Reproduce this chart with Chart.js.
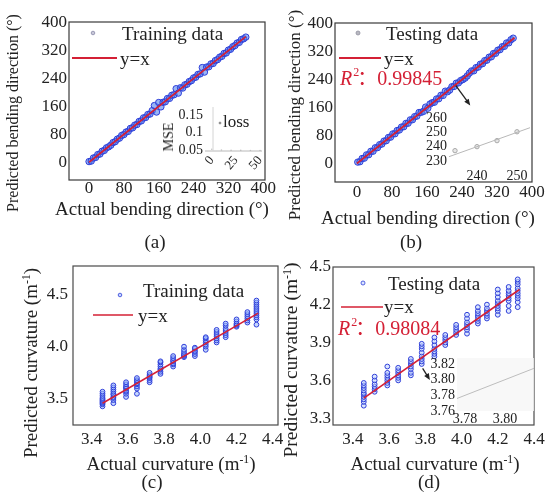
<!DOCTYPE html>
<html>
<head>
<meta charset="utf-8">
<script src="https://cdn.jsdelivr.net/npm/chart.js@4.4.1/dist/chart.umd.min.js"></script>
<style>
  body { margin: 0; background: #fff; }
  #fig { position: relative; width: 556px; height: 504px; overflow: hidden; font-family: "Liberation Serif", "Times New Roman", serif; color: #222; }
  #fig canvas { position: absolute; }
  .lbl { position: absolute; white-space: nowrap; line-height: 1; transform: translate(-50%, -50%); }
  .rot { transform: translate(-50%, -50%) rotate(-90deg); }
  sup { font-size: 0.62em; vertical-align: 0.55em; line-height: 0; }
</style>
</head>
<body>
<div id="fig">
  <canvas id="chart_a"></canvas>
  <canvas id="chart_b"></canvas>
  <canvas id="chart_c"></canvas>
  <canvas id="chart_d"></canvas>
  <canvas id="inset_a"></canvas>
  <canvas id="inset_b"></canvas>
  <canvas id="inset_d"></canvas>

  <div class="lbl rot" style="left:13px;top:113px;font-size:16px">Predicted bending direction (°)</div>
  <div class="lbl" style="left:162px;top:208px;font-size:19px">Actual bending direction (°)</div>
  <div class="lbl" style="left:155px;top:241px;font-size:19px">(a)</div>
  <div class="lbl rot" style="left:169px;top:137px;font-size:14px">MSE</div>

  <div class="lbl rot" style="left:294px;top:115px;font-size:17px">Predicted bending direction (°)</div>
  <div class="lbl" style="left:428px;top:217px;font-size:19px">Actual bending direction (°)</div>
  <div class="lbl" style="left:411px;top:241px;font-size:19px">(b)</div>

  <div class="lbl rot" style="left:30px;top:363px;font-size:19px">Predicted curvature (m<sup>-1</sup>)</div>
  <div class="lbl" style="left:171px;top:463px;font-size:19px">Actual curvature (m<sup>-1</sup>)</div>
  <div class="lbl" style="left:152px;top:481px;font-size:19px">(c)</div>

  <div class="lbl rot" style="left:291px;top:360px;font-size:19.5px">Predicted curvature (m<sup>-1</sup>)</div>
  <div class="lbl" style="left:435px;top:463px;font-size:19px">Actual curvature (m<sup>-1</sup>)</div>
  <div class="lbl" style="left:429px;top:481px;font-size:19px">(d)</div>
</div>

<script>
// ---- data ----
const dirTicks = [0, 80, 160, 240, 320, 400];

const trainDirActual = [0, 5, 10, 15, 20, 25, 30, 35, 40, 45, 50, 55, 60, 65, 70, 75, 80, 85, 90, 95,
    100, 105, 110, 115, 120, 125, 130, 135, 140, 145, 150, 155, 160, 165, 170, 175, 180, 185, 190, 195,
    200, 205, 210, 215, 220, 225, 230, 235, 240, 245, 250, 255, 260, 265, 270, 275, 280, 285, 290, 295,
    300, 305, 310, 315, 320, 325, 330, 335, 340, 345, 350, 355, 360];
const trainDirPred = [1.8, 3.2, 12.1, 13.6, 21.9, 23.4, 31.5, 33.8, 41.2, 44.1, 48.7, 56.3, 58.9, 66.2, 69.1, 76.8, 79.2, 86.5, 88.4, 96.9,
    98.6, 106.3, 108.2, 116.9, 118.5, 127.1, 128.3, 136.8, 138.1, 147.9, 162.4, 143.8, 171.2, 158.6, 171.8, 173.2, 182.6, 183.1, 191.9, 193.4,
    210.8, 198.1, 213.5, 212.6, 221.8, 223.7, 231.2, 233.9, 241.6, 243.8, 251.7, 253.2, 271.4, 258.3, 272.8, 273.6, 281.9, 283.2, 291.4, 294.1,
    301.2, 303.6, 311.8, 313.3, 321.5, 323.9, 331.2, 334.4, 341.7, 343.6, 351.8, 353.9, 358.7];

const testDirActual = [2, 7, 12, 17, 22, 27, 32, 37, 42, 47, 52, 57, 62, 67, 72, 77, 82, 87, 92, 97,
    102, 107, 112, 117, 122, 127, 132, 137, 142, 147, 152, 157, 162, 167, 172, 177, 182, 187, 192, 197,
    202, 207, 212, 217, 222, 227, 232, 237, 242, 247, 252, 257, 262, 267, 272, 277, 282, 287, 292, 297,
    302, 307, 312, 317, 322, 327, 332, 337, 342, 347, 352, 357];
const testDirPred = [3.9, 5.1, 14.2, 15.3, 24.6, 25.1, 34.8, 35.2, 44.9, 45.3, 53.8, 55.6, 64.1, 65.2, 74.3, 75.4, 84.6, 85.1, 94.3, 95.8,
    104.2, 105.1, 114.7, 115.3, 124.8, 125.2, 134.1, 135.6, 145.9, 146.4, 149.1, 161.3, 158.2, 170.1, 173.8, 175.3, 184.6, 185.2, 195.1, 194.8,
    206.9, 205.3, 210.1, 219.6, 220.4, 229.8, 230.6, 237.2, 240.0, 244.2, 250.4, 258.6, 264.9, 265.1, 274.2, 275.8, 284.1, 285.6, 294.3, 295.7,
    304.1, 305.2, 314.6, 315.4, 324.2, 325.8, 334.1, 335.3, 344.9, 345.1, 354.2, 358.6];

const fitDir = [0, 360];            // y = x
const r2Dir = "0.99845";

// loss inset of (a)
const lossEpoch = [0, 10, 20, 30, 40, 50];
const lossMse = [0.052, 0.050, 0.049, 0.049, 0.048, 0.048];
const mseTicks = [0.05, 0.1, 0.15];
const epochTicks = [0, 25, 50];

// zoom inset of (b)
const zoomDirActual = [234.5, 240, 245, 250];
const zoomDirPred = [237.2, 240, 244.2, 250.4];
const zoomDirFit = [232, 254];
const zoomDirTicksX = [240, 250];
const zoomDirTicksY = [230, 240, 250, 260];

// curvature panels
const curvLevels = [3.46, 3.52, 3.59, 3.65, 3.72, 3.78, 3.85, 3.91, 3.97, 4.03, 4.09, 4.14, 4.20, 4.26, 4.31];
const trainCurvPred = [
    [3.43, 3.45, 3.46, 3.47, 3.48, 3.49, 3.50, 3.51, 3.53, 3.55, 3.57],
    [3.46, 3.49, 3.51, 3.52, 3.54, 3.55, 3.57, 3.59, 3.61, 3.63],
    [3.52, 3.55, 3.57, 3.58, 3.60, 3.61, 3.62, 3.64, 3.66],
    [3.55, 3.60, 3.62, 3.64, 3.65, 3.67, 3.68, 3.70],
    [3.66, 3.68, 3.70, 3.71, 3.72, 3.73, 3.75],
    [3.74, 3.76, 3.78, 3.79, 3.81, 3.83, 3.85, 3.86],
    [3.81, 3.83, 3.84, 3.86, 3.87, 3.89, 3.91],
    [3.90, 3.91, 3.92, 3.93, 3.95, 3.97, 4.00],
    [3.91, 3.93, 3.95, 3.96, 3.98, 3.99],
    [3.97, 4.00, 4.02, 4.04, 4.06, 4.08, 4.09],
    [4.04, 4.06, 4.08, 4.10, 4.12, 4.14, 4.16],
    [4.09, 4.11, 4.13, 4.15, 4.17, 4.20, 4.22],
    [4.19, 4.20, 4.21, 4.22, 4.24, 4.26],
    [4.23, 4.25, 4.27, 4.29, 4.31, 4.33],
    [4.21, 4.26, 4.28, 4.30, 4.32, 4.34, 4.36, 4.38, 4.40, 4.42, 4.44]
];
const testCurvPred = [
    [3.40, 3.43, 3.45, 3.47, 3.49, 3.50, 3.52, 3.54, 3.56, 3.58],
    [3.51, 3.53, 3.55, 3.57, 3.60, 3.63],
    [3.56, 3.58, 3.60, 3.62, 3.64, 3.66, 3.71],
    [3.60, 3.62, 3.64, 3.66, 3.68, 3.70],
    [3.64, 3.66, 3.69, 3.71, 3.73, 3.75, 3.77],
    [3.73, 3.75, 3.77, 3.79, 3.82, 3.85, 3.87, 3.89],
    [3.79, 3.81, 3.83, 3.85, 3.88, 3.91, 3.94],
    [3.88, 3.90, 3.92, 3.94, 3.96],
    [3.96, 3.98, 4.00, 4.02, 4.04],
    [3.97, 4.00, 4.02, 4.04, 4.06, 4.09, 4.12],
    [4.05, 4.07, 4.09, 4.11, 4.13, 4.15, 4.18],
    [4.09, 4.11, 4.13, 4.15, 4.17, 4.20],
    [4.12, 4.15, 4.17, 4.19, 4.21, 4.23, 4.26, 4.29, 4.32],
    [4.15, 4.19, 4.23, 4.25, 4.27, 4.29, 4.31, 4.34],
    [4.18, 4.22, 4.25, 4.27, 4.29, 4.31, 4.33, 4.36, 4.38, 4.40]
];
const fitCurv = [3.46, 4.32];        // y = x
const r2Curv = "0.98084";
const curvTicksX = [3.4, 3.6, 3.8, 4.0, 4.2, 4.4];
const curvTicksYc = [3.5, 4.0, 4.5];
const curvTicksYd = [3.3, 3.6, 3.9, 4.2, 4.5];

// zoom inset of (d)
const zoomCurvFit = [3.77, 3.82];
const zoomCurvTicksX = [3.78, 3.80];
const zoomCurvTicksY = [3.76, 3.78, 3.80, 3.82];

// ---- helpers ----
const FONT = '"Liberation Serif", "Times New Roman", serif';
const BLUE = "#2f3fd8";
const RED = "#d42035";

Chart.defaults.animation = false;
Chart.defaults.events = [];
Chart.defaults.plugins.legend.display = false;
Chart.defaults.plugins.tooltip.enabled = false;

const pairs = (xs, ys) => xs.map((x, i) => ({ x: x, y: ys[i] }));
const diag = (v) => v.map((x) => ({ x: x, y: x }));
const columns = (levels, cols) => levels.flatMap((x, i) => cols[i].map((y) => ({ x: x, y: y })));

function axis(min, max, ticks, size, fontSize, pad, fmt, rot) {
    return {
        type: "linear",
        min: min,
        max: max,
        grid: { display: false, drawTicks: false },
        border: { display: false },
        afterBuildTicks: (s) => { s.ticks = ticks.map((v) => ({ value: v })); },
        afterFit: (s) => { if (s.isHorizontal()) s.height = size; else s.width = size; },
        ticks: {
            color: "#222",
            font: { family: FONT, size: fontSize, lineHeight: 1 },
            padding: pad,
            autoSkip: false,
            minRotation: rot || 0,
            maxRotation: rot || 0,
            callback: (v) => fmt(v),
        },
    };
}

// frame, legend keys, R² text and arrow drawn on top of the datasets
function decor(o) {
    return {
        id: "decor",
        beforeDatasetsDraw(chart) {
            if (!o.shade) return;
            const { ctx, chartArea: a } = chart;
            ctx.save();
            ctx.fillStyle = o.shade;
            ctx.fillRect(a.left, a.top, a.width, a.height);
            ctx.restore();
        },
        afterDatasetsDraw(chart) {
            const { ctx, chartArea: a } = chart;
            const sx = chart.scales.x, sy = chart.scales.y;
            ctx.save();
            if (o.frame) {
                ctx.strokeStyle = o.frame;
                ctx.lineWidth = 1.2;
                ctx.strokeRect(a.left, a.top, a.width, a.height);
            }
            if (o.baseLine) {
                ctx.strokeStyle = o.baseLine;
                ctx.lineWidth = 1;
                ctx.beginPath();
                ctx.moveTo(a.left, a.bottom);
                ctx.lineTo(a.right, a.bottom);
                ctx.stroke();
            }
            if (o.box) {
                // only the left edge of the legend frame is visible in the original
                ctx.strokeStyle = "#d4d4d4";
                ctx.lineWidth = 1;
                ctx.beginPath();
                ctx.moveTo(a.left + o.box[0], a.top + o.box[1]);
                ctx.lineTo(a.left + o.box[0], a.top + o.box[1] + o.box[3]);
                ctx.stroke();
            }
            (o.keys || []).forEach((k) => {
                const ds = chart.data.datasets[k.ds];
                if (k.mark === "line") {
                    ctx.strokeStyle = ds.borderColor;
                    ctx.lineWidth = ds.borderWidth;
                    ctx.beginPath();
                    ctx.moveTo(a.left + k.mx[0], a.top + k.my);
                    ctx.lineTo(a.left + k.mx[1], a.top + k.my);
                    ctx.stroke();
                } else {
                    ctx.beginPath();
                    ctx.arc(a.left + k.mx[0], a.top + k.my, k.r || 2, 0, Math.PI * 2);
                    ctx.fillStyle = k.fill || ds.backgroundColor;
                    ctx.fill();
                    ctx.strokeStyle = k.stroke || ds.borderColor;
                    ctx.lineWidth = 0.8;
                    ctx.stroke();
                }
                ctx.font = k.size + "px " + FONT;
                ctx.fillStyle = "#222";
                ctx.textAlign = "left";
                ctx.textBaseline = "middle";
                ctx.fillText(k.text, a.left + k.tx, a.top + k.ty);
            });
            if (o.r2) {
                const x = a.left + o.r2.dx, y = a.top + o.r2.dy;
                ctx.fillStyle = RED;
                ctx.textAlign = "left";
                ctx.textBaseline = "middle";
                ctx.font = "italic 20px " + FONT;
                ctx.fillText("R", x, y);
                const w = ctx.measureText("R").width;
                ctx.font = "12px " + FONT;
                ctx.fillText("2", x + w + 1, y - 7);
                ctx.font = '20px "Liberation Serif", "Noto Sans CJK SC", serif';
                ctx.fillText("：" + o.r2.text, x + w + 5, y);
            }
            if (o.arrow) {
                const p = o.arrow[0], q = o.arrow[1];
                const x1 = sx.getPixelForValue(p[0]), y1 = sy.getPixelForValue(p[1]);
                const x2 = sx.getPixelForValue(q[0]), y2 = sy.getPixelForValue(q[1]);
                const ang = Math.atan2(y2 - y1, x2 - x1);
                ctx.strokeStyle = "#222";
                ctx.fillStyle = "#222";
                ctx.lineWidth = 1.3;
                ctx.beginPath();
                ctx.moveTo(x1, y1);
                ctx.lineTo(x2 - 4 * Math.cos(ang), y2 - 4 * Math.sin(ang));
                ctx.stroke();
                ctx.beginPath();
                ctx.moveTo(x2, y2);
                ctx.lineTo(x2 - 7 * Math.cos(ang - 0.4), y2 - 7 * Math.sin(ang - 0.4));
                ctx.lineTo(x2 - 7 * Math.cos(ang + 0.4), y2 - 7 * Math.sin(ang + 0.4));
                ctx.closePath();
                ctx.fill();
            }
            ctx.restore();
        },
    };
}

// area = [left, top, right, bottom] of the plot box on the page
function build(id, area, yW, xH, scales, datasets, deco) {
    const cv = document.getElementById(id);
    const left = area[0] - yW - 4, top = area[1] - 16;
    cv.width = area[2] + 20 - left;
    cv.height = area[3] + xH + 2 - top;
    cv.style.left = left + "px";
    cv.style.top = top + "px";
    return new Chart(cv, {
        type: "scatter",
        data: { datasets: datasets },
        options: {
            responsive: false,
            layout: { padding: { left: 4, top: 16, right: 20, bottom: 2 } },
            scales: scales,
        },
        plugins: [decor(deco)],
    });
}

function fitLine(data, w) {
    return { data: data, showLine: true, borderColor: RED, borderWidth: w, pointRadius: 0, order: 0 };
}
function dots(data, r, fill) {
    return { data: data, pointRadius: r, borderWidth: 1, borderColor: BLUE, backgroundColor: fill, order: 1 };
}

const fmtInt = (v) => String(v);
const fmt1 = (v) => v.toFixed(1);
const fmt2 = (v) => v.toFixed(2);

// (a) training, bending direction
build("chart_a", [69, 22, 265, 180], 45, 26, {
    x: axis(-46, 404, dirTicks, 26, 17, 0, fmtInt),
    y: axis(-51, 402, dirTicks, 45, 17, 2, fmtInt),
}, [
    fitLine(diag(fitDir), 1.8),
    dots(pairs(trainDirActual, trainDirPred), 3.2, "rgba(70,120,240,0.55)"),
], {
    frame: "#3a3a3a",
    keys: [
        { ds: 1, mark: "point", mx: [24], my: 11, r: 1.8, fill: "#c8c8d8", stroke: "#8888a8", text: "Training data", tx: 53, ty: 13, size: 19 },
        { ds: 0, mark: "line", mx: [3, 48], my: 36, text: "y=x", tx: 51, ty: 38, size: 19 },
    ],
});

// (b) testing, bending direction
build("chart_b", [335, 23, 532, 182], 45, 26, {
    x: axis(-50, 400, dirTicks, 26, 17, 2, fmtInt),
    y: axis(-53, 402, dirTicks, 45, 17, 2, fmtInt),
}, [
    fitLine(diag(fitDir), 1.8),
    dots(pairs(testDirActual, testDirPred), 3.2, "rgba(70,120,240,0.55)"),
], {
    frame: "#3a3a3a",
    keys: [
        { ds: 1, mark: "point", mx: [23], my: 10, r: 2, fill: "#b8b8c0", stroke: "#9090a0", text: "Testing data", tx: 51, ty: 12, size: 19 },
        { ds: 0, mark: "line", mx: [4, 46], my: 35, text: "y=x", tx: 49, ty: 37, size: 19 },
    ],
    r2: { dx: 5, dy: 57, text: r2Dir },
    arrow: [[226, 223], [259, 166]],
});

// (c) training, curvature
build("chart_c", [73, 266, 278, 425], 45, 30, {
    x: axis(3.297, 4.429, curvTicksX, 30, 17, 6, fmt1),
    y: axis(3.252, 4.77, curvTicksYc, 45, 17, 5, fmt1),
}, [
    fitLine(diag(fitCurv), 1.6),
    dots(columns(curvLevels, trainCurvPred), 2.4, "rgba(150,180,255,0.55)"),
], {
    frame: "#4a4a4a",
    keys: [
        { ds: 1, mark: "point", mx: [47], my: 29, r: 1.8, text: "Training data", tx: 70, ty: 26, size: 19 },
        { ds: 0, mark: "line", mx: [20, 60], my: 49, text: "y=x", tx: 65, ty: 51, size: 19 },
    ],
});

// (d) testing, curvature
build("chart_d", [333, 267, 534, 425], 45, 30, {
    x: axis(3.29, 4.4, curvTicksX, 30, 17, 6, fmt1),
    y: axis(3.247, 4.498, curvTicksYd, 45, 17, 2, fmt1),
}, [
    fitLine(diag(fitCurv), 1.6),
    dots(columns(curvLevels, testCurvPred), 2.4, "rgba(190,210,255,0.55)"),
], {
    frame: "#4a4a4a",
    keys: [
        { ds: 1, mark: "point", mx: [30], my: 16, r: 2, text: "Testing data", tx: 55, ty: 18, size: 19 },
        { ds: 0, mark: "line", mx: [8, 50], my: 40, text: "y=x", tx: 51, ty: 41, size: 19 },
    ],
    r2: { dx: 5, dy: 63, text: r2Curv },
    arrow: [[3.785, 3.696], [3.825, 3.603]],
});

// inset of (a): training loss
build("inset_a", [205, 110, 262, 151], 32, 22, {
    x: axis(-7, 52, epochTicks, 22, 13, 3, fmtInt, 50),
    y: axis(0.047, 0.164, mseTicks, 32, 14, 2, fmtInt),
}, [
    { data: pairs(lossEpoch, lossMse), pointRadius: 0.8, borderWidth: 0, backgroundColor: "#c4c4c4", borderColor: "#c4c4c4" },
], {
    baseLine: "#b8b8b8",
    box: [8, -3, 57, 44],
    keys: [
        { ds: 0, mark: "point", mx: [15], my: 13, r: 1, fill: "#888", stroke: "#888", text: "loss", tx: 18, ty: 13, size: 17 },
    ],
});

// inset of (b): zoom around 240°
build("inset_b", [449, 110, 530, 168], 30, 20, {
    x: axis(233, 253.25, zoomDirTicksX, 20, 14, 1, fmtInt),
    y: axis(225.1, 265.6, zoomDirTicksY, 30, 14, 2, fmtInt),
}, [
    { data: diag(zoomDirFit), showLine: true, borderColor: "#b8b8b8", borderWidth: 1, pointRadius: 0 },
    { data: pairs(zoomDirActual, zoomDirPred), pointRadius: 2.2, borderWidth: 1, borderColor: "#a8a8a8", backgroundColor: "rgba(215,215,215,0.6)" },
], {});

// inset of (d): zoom around 3.79 m^-1
build("inset_d", [457, 358, 534, 411], 30, 20, {
    x: axis(3.776, 3.8145, zoomCurvTicksX, 20, 14, 1, fmt2),
    y: axis(3.76, 3.8277, zoomCurvTicksY, 30, 14, 2, fmt2),
}, [
    { data: diag(zoomCurvFit), showLine: true, borderColor: "#bdbdbd", borderWidth: 1, pointRadius: 0 },
], {
    shade: "rgba(246,246,246,0.8)",
});
</script>
</body>
</html>
